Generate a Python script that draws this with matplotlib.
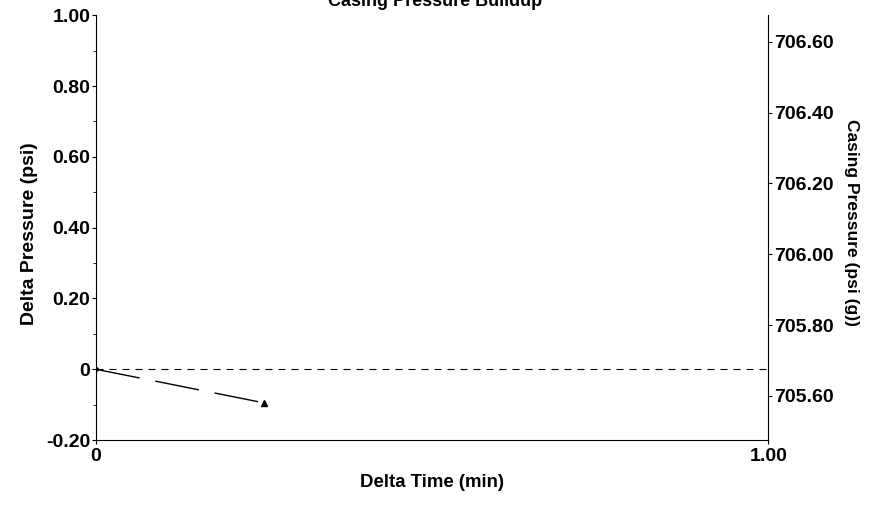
import matplotlib.pyplot as plt
import numpy as np

plt.rcParams['font.family'] = ['Liberation Sans', 'DejaVu Sans']
plt.rcParams['font.weight'] = 'bold'

# datos
delta_time = [0.0, 0.25]
delta_pressure = [0.0, -0.095]
left_ticks = [-0.20, 0, 0.20, 0.40, 0.60, 0.80, 1.00]
left_labels = ["-0.20", "0", "0.20", "0.40", "0.60", "0.80", "1.00"]
right_ticks = [705.60, 705.80, 706.00, 706.20, 706.40, 706.60]
x_ticks = [0, 1.0]
x_labels = ["0", "1.00"]

fig = plt.figure(figsize=(8.81, 5.07), dpi=100)
ax = fig.add_axes([0.109, 0.132, 0.763, 0.838])

# linea de referencia en cero
ax.axhline(0, color='black', lw=0.8, linestyle=(0, (6.3, 5.4)))
# serie
ax.plot(delta_time, delta_pressure, color='black', lw=1.0, linestyle=(0, (32, 11.5)))
ax.plot(delta_time[:1], delta_pressure[:1], marker='o', ms=2.5, color='black', linestyle='none')
ax.plot(delta_time[-1:], delta_pressure[-1:], marker='^', ms=4.5, color='black', linestyle='none')

ax.set_xlim(0, 1.0)
ax.set_ylim(-0.20, 1.00)
ax.set_xticks(x_ticks)
ax.set_xticklabels(x_labels)
ax.set_yticks(left_ticks)
ax.set_yticklabels(left_labels)
ax.set_yticks(np.arange(-0.1, 1.0, 0.2), minor=True)
ax.tick_params(axis='both', labelsize=14, length=3, width=0.8, pad=1)
ax.tick_params(axis='x', pad=3)
ax.tick_params(axis='y', which='minor', length=2, width=0.6)
ax.spines['top'].set_visible(False)
ax.spines['right'].set_visible(False)
for s in ['left', 'bottom']:
    ax.spines[s].set_linewidth(0.8)

ax.set_xlabel("Delta Time (min)", fontsize=13.4, fontweight='bold', labelpad=6)
ax.set_ylabel("Delta Pressure (psi)", fontsize=14, fontweight='bold')
ax.yaxis.set_label_coords(-0.086, 0.485)

# eje derecho
ax2 = ax.twinx()
ax2.set_ylim(705.475, 706.675)
ax2.set_yticks(right_ticks)
ax2.set_yticklabels(["%.2f" % v for v in right_ticks])
ax2.tick_params(axis='y', labelsize=14, length=3, width=0.8, pad=1)
ax2.spines['top'].set_visible(False)
ax2.spines['left'].set_visible(False)
ax2.spines['bottom'].set_visible(False)
ax2.spines['right'].set_linewidth(0.8)
ax2.set_ylabel("Casing Pressure (psi (g))", fontsize=12.5, fontweight='bold',
               rotation=270, va='center')
ax2.yaxis.set_label_coords(1.1235, 0.513)

fig.text(0.494, 0.997, "Casing Pressure Buildup", ha='center', va='center',
         fontsize=13, fontweight='bold')

plt.savefig("out.png", dpi=100)
